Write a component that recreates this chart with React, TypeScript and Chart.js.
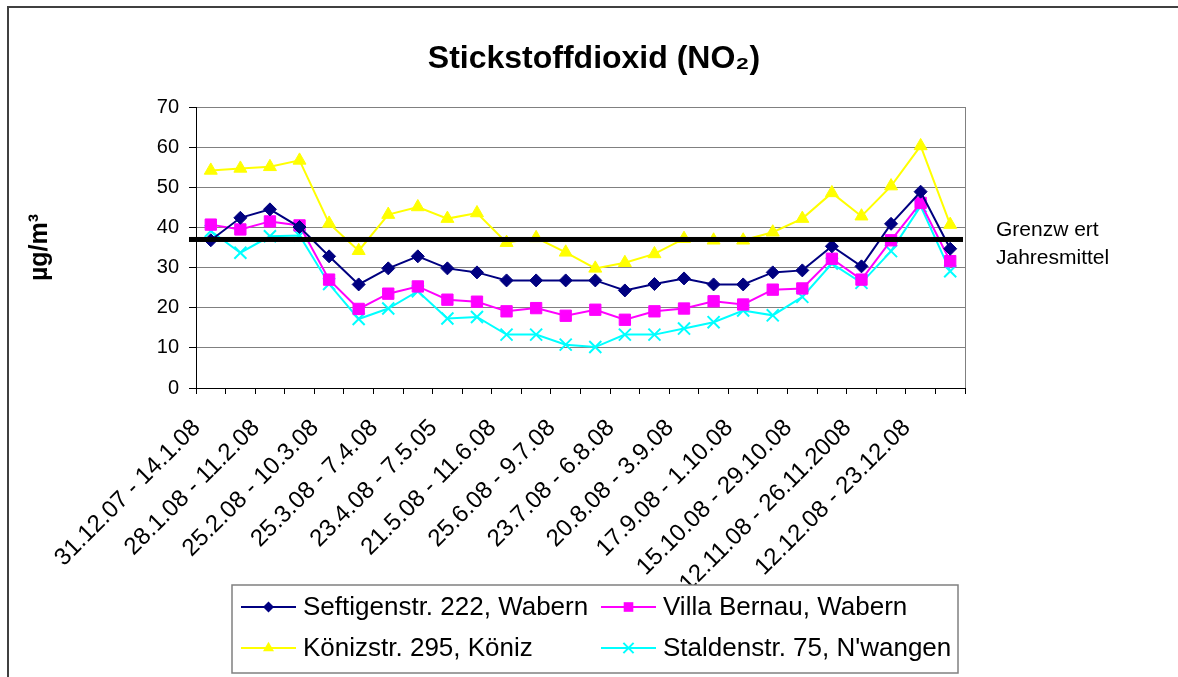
import React, { useEffect, useRef } from 'react';
import { Chart, registerables } from 'chart.js';

Chart.register(...registerables);

const FONT = '"Liberation Sans", Arial, Helvetica, sans-serif';

const chartTitle = 'Stickstoffdioxid (NO₂)';
const yAxisTitle = 'µg/m³';
const limitLabel = ['Grenzw ert', 'Jahresmittel'];
const limitValue = 37;

const tickLabels = [
  '31.12.07 - 14.1.08',
  '28.1.08 - 11.2.08',
  '25.2.08 - 10.3.08',
  '25.3.08 - 7.4.08',
  '23.4.08 - 7.5.05',
  '21.5.08 - 11.6.08',
  '25.6.08 - 9.7.08',
  '23.7.08 - 6.8.08',
  '20.8.08 - 3.9.08',
  '17.9.08 - 1.10.08',
  '15.10.08 - 29.10.08',
  '12.11.08 - 26.11.2008',
  '12.12.08 - 23.12.08',
];

// 26 two-week periods; only every second one carries a visible label
const categories: string[] = [];
tickLabels.forEach((l) => {
  categories.push(l);
  categories.push('');
});

const seftigen = [36.8, 42.4, 44.5, 40.1, 32.8, 25.8, 29.8, 32.8, 29.8, 28.8, 26.8, 26.8, 26.8, 26.8, 24.3, 25.9, 27.3, 25.8, 25.8, 28.8, 29.3, 35.3, 30.3, 40.9, 48.9, 34.7];
const villaBernau = [40.7, 39.5, 41.5, 40.5, 27.0, 19.7, 23.5, 25.3, 22.0, 21.5, 19.1, 19.9, 18.0, 19.5, 17.0, 19.1, 19.8, 21.6, 20.8, 24.5, 24.8, 32.2, 27.0, 36.8, 46.1, 31.6];
const koeniz = [54.2, 54.7, 55.1, 56.7, 41.0, 34.2, 43.2, 45.1, 42.2, 43.6, 36.2, 37.4, 33.8, 29.8, 31.2, 33.4, 37.2, 36.8, 36.8, 38.8, 42.2, 48.6, 42.8, 50.3, 60.3, 40.7];
const stalden = [39.1, 33.7, 37.8, 38.0, 25.9, 17.2, 19.8, 24.1, 17.3, 17.7, 13.3, 13.3, 10.8, 10.2, 13.3, 13.3, 14.8, 16.4, 19.3, 18.1, 22.7, 31.0, 26.2, 34.1, 45.3, 29.1];

const seriesNames = [
  'Seftigenstr. 222, Wabern',
  'Villa Bernau, Wabern',
  'Könizstr. 295, Köniz',
  'Staldenstr. 75, N\'wangen',
];

function drawMarker(ctx: CanvasRenderingContext2D, style: string, x: number, y: number, r: number, color: string) {
  ctx.save();
  ctx.fillStyle = color;
  ctx.strokeStyle = color;
  ctx.lineWidth = style === 'crossRot' ? 2 : 1;
  ctx.beginPath();
  if (style === 'rectRot') {
    ctx.moveTo(x - r, y);
    ctx.lineTo(x, y - r);
    ctx.lineTo(x + r, y);
    ctx.lineTo(x, y + r);
    ctx.closePath();
    ctx.fill();
  } else if (style === 'rect') {
    const s = Math.SQRT1_2 * r;
    ctx.rect(x - s, y - s, 2 * s, 2 * s);
    ctx.fill();
  } else if (style === 'triangle') {
    const a = (2 * Math.PI) / 3;
    ctx.moveTo(x, y - r);
    ctx.lineTo(x + Math.sin(a) * r, y - Math.cos(a) * r);
    ctx.lineTo(x + Math.sin(2 * a) * r, y - Math.cos(2 * a) * r);
    ctx.closePath();
    ctx.fill();
  } else if (style === 'crossRot') {
    const s = Math.SQRT1_2 * r;
    ctx.moveTo(x - s, y - s);
    ctx.lineTo(x + s, y + s);
    ctx.moveTo(x - s, y + s);
    ctx.lineTo(x + s, y - s);
    ctx.stroke();
  }
  ctx.restore();
}

const decorPlugin = {
  id: 'decor',
  beforeDatasetsDraw(chart: any) {
    const { ctx, chartArea: a } = chart;
    ctx.save();
    ctx.strokeStyle = '#808080';
    ctx.lineWidth = 1;
    ctx.beginPath();
    ctx.moveTo(Math.round(a.right) + 0.5, a.top);
    ctx.lineTo(Math.round(a.right) + 0.5, a.bottom);
    ctx.stroke();
    ctx.restore();
  },
  afterDatasetsDraw(chart: any) {
    const { ctx, chartArea: a } = chart;
    const y = chart.scales.y.getPixelForValue(limitValue);
    ctx.save();
    ctx.fillStyle = '#000000';
    ctx.fillRect(a.left - 7, y - 2.5, a.right - 2 - (a.left - 7), 5);
    ctx.restore();
  },
  afterDraw(chart: any) {
    const { ctx } = chart;
    ctx.save();
    // title
    ctx.fillStyle = '#000';
    ctx.font = `bold 32px ${FONT}`;
    ctx.textAlign = 'center';
    ctx.textBaseline = 'alphabetic';
    ctx.fillText(chartTitle, 594, 68);

    // limit label
    const ly = chart.scales.y.getPixelForValue(limitValue);
    ctx.font = `21px ${FONT}`;
    ctx.textAlign = 'left';
    ctx.fillText(limitLabel[0], 996, ly - 3);
    ctx.fillText(limitLabel[1], 996, ly + 25);

    // legend box (white, covers the long tick labels like in the original)
    ctx.fillStyle = '#ffffff';
    ctx.fillRect(232, 585, 726, 88);
    ctx.strokeStyle = '#808080';
    ctx.lineWidth = 1.5;
    ctx.strokeRect(232, 585, 726, 88);
    const cols = [241, 601];
    const rows = [607, 648];
    ctx.font = `26px ${FONT}`;
    ctx.textBaseline = 'middle';
    chart.data.datasets.forEach((ds: any, i: number) => {
      const x = cols[i % 2];
      const y = rows[Math.floor(i / 2)];
      ctx.strokeStyle = ds.borderColor;
      ctx.lineWidth = 2;
      ctx.beginPath();
      ctx.moveTo(x, y);
      ctx.lineTo(x + 55, y);
      ctx.stroke();
      drawMarker(ctx, ds.pointStyle, x + 27.5, y, ds.pointRadius * 0.85, ds.borderColor);
      ctx.fillStyle = '#000';
      ctx.fillText(ds.label, x + 62, y + 1);
    });

    // outer frame
    ctx.strokeStyle = '#404040';
    ctx.lineWidth = 2;
    ctx.strokeRect(8, 7, 1200, 700);
    ctx.restore();
  },
};

export default function App() {
  const ref = useRef<HTMLCanvasElement | null>(null);

  useEffect(() => {
    document.body.style.margin = '0';
    const canvas = ref.current;
    if (!canvas) return;
    Chart.defaults.font.family = FONT;
    const mk = (label: string, data: number[], color: string, style: string, radius: number) => ({
      label,
      data,
      borderColor: color,
      backgroundColor: color,
      pointBackgroundColor: color,
      pointBorderColor: color,
      pointStyle: style,
      pointRadius: radius,
      pointHoverRadius: radius,
      pointBorderWidth: style === 'crossRot' ? 2 : 1,
      borderWidth: 2,
      tension: 0,
      fill: false,
    });
    const chart = new Chart(canvas, {
      type: 'line',
      data: {
        labels: categories,
        datasets: [
          mk(seriesNames[0], seftigen, '#000080', 'rectRot', 6.5),
          mk(seriesNames[1], villaBernau, '#FF00FF', 'rect', 8),
          mk(seriesNames[2], koeniz, '#FFFF00', 'triangle', 7.5),
          mk(seriesNames[3], stalden, '#00FFFF', 'crossRot', 8.5),
        ],
      },
      options: {
        responsive: false,
        animation: false,
        devicePixelRatio: 1,
        layout: { padding: { top: 107, right: 213, left: 0, bottom: 0 } },
        plugins: {
          legend: { display: false },
          title: { display: false },
          tooltip: { enabled: false },
        },
        scales: {
          x: {
            type: 'category',
            offset: true,
            grid: {
              offset: true,
              drawOnChartArea: false,
              drawTicks: true,
              tickLength: 6,
              tickColor: '#000',
            },
            border: { color: '#000', width: 1 },
            ticks: {
              autoSkip: false,
              minRotation: 45,
              maxRotation: 45,
              color: '#000',
              font: { size: 24, family: FONT },
              padding: 20,
              labelOffset: -14,
            },
            afterFit: (s: any) => {
              s.height = 677 - 388;
            },
          },
          y: {
            min: 0,
            max: 70,
            ticks: {
              stepSize: 10,
              color: '#000',
              font: { size: 20, family: FONT },
              padding: 10,
            },
            grid: {
              color: '#808080',
              tickColor: '#000',
              tickLength: 7,
            },
            border: { color: '#000', width: 1 },
            title: {
              display: true,
              text: yAxisTitle,
              color: '#000',
              font: { size: 25, weight: 'bold', family: FONT },
              padding: { top: 25, bottom: 0 },
            },
            afterFit: (s: any) => {
              s.width = 196;
            },
          },
        },
      },
      plugins: [decorPlugin],
    } as any);
    return () => chart.destroy();
  }, []);

  return (
    <div style={{ width: 1178, height: 677, position: 'relative', background: '#fff' }}>
      <canvas ref={ref} width={1178} height={677} style={{ display: 'block' }} />
    </div>
  );
}
